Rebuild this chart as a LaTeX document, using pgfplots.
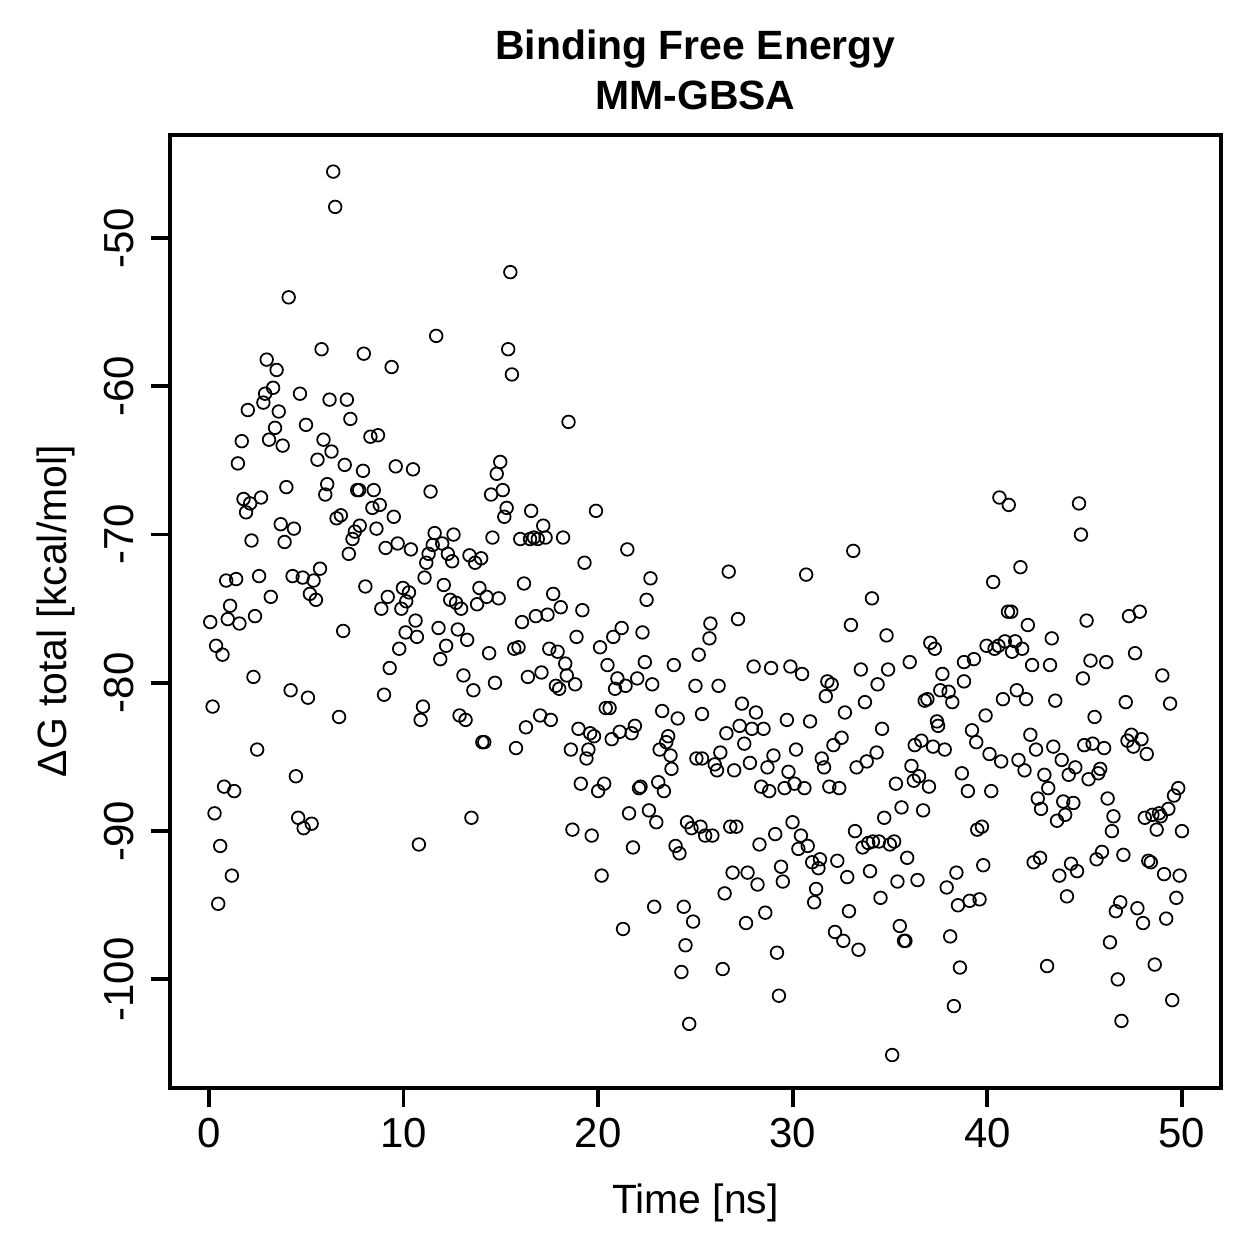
\documentclass[border=0pt]{standalone}
\usepackage{pgfplots}
\pgfplotsset{compat=1.18}
\usepackage{pgfplotstable}
\usepackage{fontspec}
\setmainfont{Liberation Sans}

% MM-GBSA total binding free energy per frame: time [ns], dG [kcal/mol]
\pgfplotstableread{
t dG
6.39 -45.52
6.49 -47.9
4.10 -54.0
5.79 -57.5
7.96 -57.8
2.97 -58.2
3.48 -58.9
3.30 -60.1
2.89 -60.5
2.80 -61.1
4.68 -60.5
6.20 -60.9
7.09 -60.9
2.00 -61.6
3.59 -61.7
7.27 -62.2
4.99 -62.6
3.40 -62.8
1.69 -63.7
3.09 -63.6
3.79 -64.0
5.89 -63.6
6.30 -64.4
1.49 -65.2
5.58 -64.95
6.98 -65.3
7.92 -65.7
6.08 -66.6
3.98 -66.8
5.98 -67.3
7.62 -67.0
7.72 -67.0
1.78 -67.6
2.12 -67.9
1.91 -68.5
2.68 -67.5
6.56 -68.9
6.78 -68.7
7.75 -69.4
7.50 -69.8
7.38 -70.3
3.69 -69.3
4.37 -69.6
2.19 -70.4
3.89 -70.5
7.19 -71.3
5.71 -72.3
0.89 -73.1
1.40 -73.0
2.58 -72.8
4.30 -72.8
4.82 -72.9
5.38 -73.1
5.19 -74.0
5.50 -74.4
3.18 -74.2
8.04 -73.5
1.09 -74.8
0.07 -75.9
0.97 -75.7
1.57 -76.0
2.37 -75.5
6.90 -76.5
0.37 -77.5
0.70 -78.1
2.29 -79.6
4.20 -80.5
5.09 -81.0
0.19 -81.6
6.69 -82.3
2.48 -84.5
4.47 -86.3
0.78 -87.0
1.30 -87.3
0.29 -88.8
4.59 -89.1
5.28 -89.5
4.87 -89.8
0.58 -91.0
1.18 -93.0
0.48 -94.9
15.49 -52.3
11.68 -56.6
15.38 -57.5
15.57 -59.2
9.39 -58.7
8.30 -63.4
8.69 -63.3
9.60 -65.4
10.49 -65.6
14.97 -65.1
14.79 -65.9
8.47 -67.0
11.39 -67.1
15.10 -67.0
14.50 -67.3
8.78 -68.0
8.40 -68.2
15.30 -68.2
15.18 -68.8
16.56 -68.4
9.50 -68.8
8.61 -69.6
11.60 -69.9
12.57 -70.0
14.57 -70.2
16.00 -70.3
16.50 -70.3
16.70 -70.2
16.90 -70.3
17.30 -70.2
17.18 -69.4
18.20 -70.2
11.50 -70.7
11.99 -70.6
11.29 -71.3
12.28 -71.3
12.50 -71.8
11.17 -71.9
13.39 -71.4
13.99 -71.6
13.68 -71.9
9.08 -70.9
9.70 -70.6
10.38 -71.0
11.08 -72.9
12.07 -73.4
13.90 -73.6
16.19 -73.3
9.97 -73.6
10.28 -73.9
9.19 -74.2
10.14 -74.5
12.40 -74.4
12.70 -74.6
14.27 -74.2
14.89 -74.3
13.78 -74.7
8.86 -75.0
9.89 -75.0
12.96 -75.0
10.62 -75.8
16.09 -75.9
10.11 -76.6
10.69 -76.9
11.80 -76.3
12.79 -76.4
13.27 -77.1
12.19 -77.5
11.89 -78.4
9.78 -77.7
9.29 -79.0
9.00 -80.8
14.40 -78.0
15.69 -77.7
15.91 -77.6
13.08 -79.5
13.59 -80.5
14.70 -80.0
16.39 -79.6
11.00 -81.6
10.88 -82.5
12.88 -82.2
13.19 -82.5
16.29 -83.0
14.05 -84.0
14.15 -84.0
15.78 -84.4
13.49 -89.1
10.79 -90.9
18.48 -62.4
19.89 -68.4
21.50 -71.0
19.30 -71.9
22.69 -72.95
17.69 -74.0
22.49 -74.4
18.08 -74.9
19.19 -75.1
16.80 -75.5
17.40 -75.4
18.89 -76.9
21.21 -76.3
20.78 -76.9
22.28 -76.6
20.10 -77.6
17.49 -77.7
17.92 -77.9
18.31 -78.7
17.09 -79.3
18.39 -79.5
18.82 -80.1
17.83 -80.2
18.00 -80.4
20.48 -78.8
20.99 -79.7
20.87 -80.4
21.41 -80.2
22.01 -79.7
22.40 -78.6
22.78 -80.1
23.89 -78.8
25.17 -78.1
25.00 -80.2
17.02 -82.2
17.57 -82.5
23.29 -81.9
24.09 -82.4
25.34 -82.1
20.39 -81.7
20.59 -81.7
18.99 -83.1
19.59 -83.4
19.79 -83.6
18.60 -84.5
19.50 -84.5
19.40 -85.1
20.70 -83.8
21.11 -83.3
21.72 -83.4
21.89 -82.9
23.60 -83.6
23.50 -84.0
23.16 -84.5
23.72 -84.9
23.77 -85.8
25.05 -85.1
25.34 -85.1
19.11 -86.8
20.31 -86.8
20.00 -87.3
22.10 -87.1
22.18 -87.0
23.09 -86.7
23.38 -87.3
21.59 -88.8
22.61 -88.6
22.99 -89.4
24.57 -89.4
24.80 -89.8
25.26 -89.7
25.50 -90.3
18.68 -89.9
19.67 -90.3
21.79 -91.1
23.98 -91.0
24.18 -91.5
20.18 -93.0
22.88 -95.1
24.40 -95.1
24.88 -96.1
21.28 -96.6
24.49 -97.7
24.28 -99.5
24.68 -103.0
33.11 -71.1
26.71 -72.5
30.69 -72.7
34.07 -74.3
27.19 -75.7
25.77 -76.0
25.72 -77.0
32.99 -76.1
27.99 -78.9
28.89 -79.0
29.88 -78.9
30.48 -79.4
31.78 -79.9
32.00 -80.1
31.70 -80.9
33.50 -79.1
33.71 -81.3
26.19 -80.2
27.39 -81.4
28.11 -82.0
29.70 -82.5
30.89 -82.6
32.68 -82.0
26.59 -83.4
27.27 -82.9
27.90 -83.1
28.50 -83.1
27.51 -84.1
32.51 -83.7
32.09 -84.2
26.28 -84.7
25.99 -85.5
26.11 -85.9
26.99 -85.9
27.80 -85.4
28.70 -85.7
29.01 -84.9
30.17 -84.5
29.78 -86.0
31.49 -85.1
31.61 -85.7
33.28 -85.7
33.80 -85.3
28.38 -87.0
28.79 -87.3
29.58 -87.1
30.09 -86.8
30.60 -87.1
31.88 -87.0
32.39 -87.1
25.87 -90.3
26.79 -89.7
27.10 -89.7
29.99 -89.4
29.10 -90.2
30.42 -90.3
30.77 -91.0
30.29 -91.2
28.29 -90.9
31.00 -92.1
31.40 -91.9
31.32 -92.5
32.29 -92.0
33.20 -90.0
33.59 -91.1
33.88 -90.8
34.12 -90.7
32.80 -93.1
33.97 -92.7
29.40 -92.4
29.49 -93.4
26.91 -92.8
27.68 -92.8
28.19 -93.6
26.50 -94.2
31.20 -93.9
31.10 -94.8
28.59 -95.5
27.60 -96.2
32.89 -95.4
32.17 -96.8
32.60 -97.4
33.38 -98.0
29.19 -98.2
26.40 -99.3
29.29 -101.1
40.62 -67.5
41.10 -68.0
41.70 -72.2
40.30 -73.2
41.06 -75.2
41.23 -75.2
34.82 -76.8
37.07 -77.3
37.30 -77.7
39.96 -77.5
40.37 -77.7
40.57 -77.5
40.90 -77.2
41.43 -77.2
41.27 -77.9
41.79 -77.7
42.08 -76.1
42.30 -78.8
36.01 -78.6
34.90 -79.1
34.36 -80.1
37.69 -79.4
38.80 -78.6
39.31 -78.4
38.80 -79.9
37.58 -80.5
38.01 -80.6
38.20 -81.3
36.78 -81.2
36.92 -81.1
40.80 -81.1
41.51 -80.5
41.99 -81.1
39.91 -82.2
34.59 -83.1
37.41 -82.6
37.47 -82.9
39.21 -83.2
39.43 -84.0
42.21 -83.5
42.50 -84.5
34.31 -84.7
36.27 -84.2
36.61 -83.9
37.21 -84.3
37.81 -84.5
40.11 -84.8
40.71 -85.3
41.60 -85.2
41.91 -85.9
36.10 -85.6
36.49 -86.3
36.22 -86.6
35.30 -86.8
37.00 -87.0
38.69 -86.1
39.00 -87.3
40.20 -87.3
42.59 -87.8
42.76 -88.5
35.59 -88.4
36.70 -88.6
34.70 -89.1
39.48 -89.9
39.72 -89.7
34.43 -90.7
34.99 -90.9
35.21 -90.7
35.88 -91.8
42.38 -92.1
42.71 -91.8
35.38 -93.4
36.41 -93.3
38.41 -92.8
39.79 -92.3
34.51 -94.5
37.91 -93.8
38.49 -95.0
39.09 -94.7
39.60 -94.6
35.50 -96.4
35.72 -97.4
35.79 -97.4
38.09 -97.1
38.59 -99.2
38.28 -101.8
35.11 -105.1
44.71 -67.9
44.81 -70.0
45.10 -75.8
47.28 -75.5
47.83 -75.2
43.31 -77.0
43.22 -78.8
45.30 -78.5
46.11 -78.6
44.91 -79.7
47.59 -78.0
48.99 -79.5
43.49 -81.2
47.11 -81.3
49.39 -81.4
45.51 -82.3
43.39 -84.3
44.98 -84.2
45.41 -84.1
46.00 -84.4
47.20 -83.9
47.40 -83.5
47.50 -84.3
47.92 -83.8
48.19 -84.8
43.82 -85.2
44.52 -85.7
44.18 -86.2
45.80 -85.8
45.70 -86.1
45.20 -86.5
42.93 -86.2
43.13 -87.1
43.90 -88.0
44.42 -88.1
44.00 -88.9
43.58 -89.3
46.18 -87.8
46.48 -89.0
46.40 -90.0
48.09 -89.1
48.48 -88.9
48.82 -88.8
48.91 -89.0
48.70 -89.9
49.30 -88.5
49.59 -87.6
49.81 -87.1
50.00 -90.0
44.30 -92.2
44.61 -92.7
43.70 -93.0
45.89 -91.4
45.61 -91.9
46.99 -91.6
48.27 -92.0
48.40 -92.1
49.08 -92.9
49.88 -93.0
44.09 -94.4
46.83 -94.8
46.60 -95.4
47.71 -95.2
48.00 -96.2
49.19 -95.9
49.71 -94.5
46.30 -97.5
43.07 -99.1
48.60 -99.0
46.70 -100.0
49.50 -101.4
46.89 -102.8
}\energy

\begin{document}
\fontsize{11.7pt}{14pt}\selectfont
\begin{tikzpicture}
\begin{axis}[
  name=ax, at={(0,0)}, anchor=south west,
  scale only axis, width=300.5pt, height=272.4pt,
  xmin=-2, xmax=52, ymin=-107.3, ymax=-43.05,
  xtick={0,10,20,30,40,50},
  xticklabels={0,10,20,30,40,50},
  ytick={-100,-90,-80,-70,-60,-50},
  yticklabels={-100,-90,-80,-70,-60,-50},
  tick align=outside, xtick pos=left, ytick pos=left,
  major tick length=5.4pt,
  tick style={line width=1.1pt, black},
  axis line style={line width=1.1pt},
  ticklabel style={font=\fontsize{12pt}{14pt}\selectfont},
  xticklabel style={inner sep=0pt, anchor=north, yshift=-3.2pt},
  yticklabel style={xshift=-4.8pt, rotate=90, anchor=south, inner sep=0pt},
]
\addplot[only marks, mark=o, mark size=1.8pt,
  mark options={line width=0.5pt, black}] table[x=t, y=dG] {\energy};
\end{axis}
\node[anchor=base, font=\bfseries] at ([yshift=21.6pt]ax.north) {Binding Free Energy};
\node[anchor=base, font=\bfseries] at ([yshift=7.3pt]ax.north) {MM-GBSA};
\node[anchor=base] at ([yshift=-36.0pt]ax.south) {Time [ns]};
\node[anchor=base, rotate=90] at ([xshift=-29.7pt]ax.west) {ΔG total [kcal/mol]};
\pgfresetboundingbox
\path[use as bounding box] ([shift={(-48.6pt,-49.0pt)}]ax.south west) rectangle ([shift={(10.9pt,38.6pt)}]ax.north east);
\end{tikzpicture}
\end{document}
